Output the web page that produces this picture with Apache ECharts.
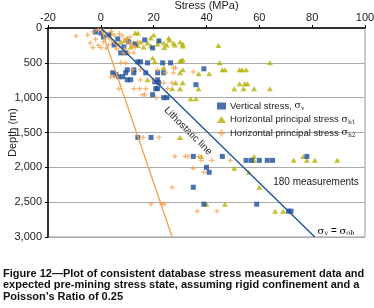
<!DOCTYPE html>
<html>
<head>
<meta charset="utf-8">
<script src="https://cdn.jsdelivr.net/npm/echarts@6/dist/echarts.min.js"></script>
<style>
  html, body { margin: 0; padding: 0; background: #fff; }
  #chart { width: 374px; height: 308px; }
</style>
</head>
<body>
<div id="chart"></div>
<script>
// stress (MPa), depth (m)
const vertical = [
  [-2, 57], [0, 71], [1, 129], [6.4, 157], [10.6, 200], [16.6, 171], [22, 186], [19.6, 286], [8.7, 271], [5, 243], [3, 100], [13, 230],
  [7.5, 357], [9.4, 357], [14, 486], [15, 486], [17.7, 500], [23.4, 500], [26.4, 500], [10, 600], [12.5, 600], [39, 586],
  [4.5, 643], [5.7, 671], [9.4, 643], [12.5, 643], [17, 643], [21.5, 643], [23.8, 643], [6.8, 700], [8.3, 700], [10, 743], [11.3, 743],
  [21.5, 743], [20.4, 771], [21.9, 786], [36, 814], [20.8, 871], [21.5, 871], [19.6, 957], [23.8, 1000], [25, 1000],
  [14, 1571], [19, 1571], [35, 1843], [46, 1843], [78, 1843], [55, 1900], [57, 1900], [60, 1900], [63, 1900], [65, 1900],
  [40, 2000], [41, 2071], [35, 2286], [39, 2529], [59, 2529], [71, 2629], [72, 2629]
];
const horizH1 = [
  [3.8, 71], [13, 71], [14, 71], [10, 143], [12.5, 214], [15, 200], [17.7, 214], [21.5, 229], [23.8, 214], [27.5, 214], [31, 229],
  [25.7, 143], [18.9, 143], [11.3, 271], [16.2, 271], [7.5, 200], [26, 171], [28, 243], [25, 243], [31, 257], [44.5, 250],
  [20, 100], [22, 180], [9, 180], [14, 250], [19, 260], [24, 280], [30, 200],
  [19.6, 429], [20.4, 486], [30, 471], [30.5, 471], [31, 457], [45, 500], [64, 500], [23.8, 571], [31, 600], [46, 600], [47, 600],
  [52.5, 600], [53.5, 600], [55, 600], [30, 643], [37, 657], [41, 657], [17.7, 743], [28.3, 786], [31, 786], [52.5, 800], [54.5, 800],
  [55.5, 800], [27, 871], [30, 871], [37, 871], [50.5, 871], [54, 871], [58, 871], [64, 871], [34, 1014], [36, 1014],
  [30, 1571], [38, 1843], [58, 1843], [76.6, 1843], [58, 1900], [73, 1900], [78, 1900], [81, 1900], [89.5, 1900],
  [50.5, 2014], [56, 2071], [60, 2286], [40, 2529], [47, 2529], [66, 2629], [69, 2629]
];
const horizH2 = [
  [-9.4, 114], [-4, 214], [-3, 57], [-1, 30], [1, 40], [2, 90], [3, 140], [4, 170], [5, 200], [6, 230], [7, 260], [8, 110], [9, 160],
  [10, 190], [11, 220], [12, 250], [13, 280], [-2, 160], [-1, 250], [0, 280], [2, 290], [5, 100], [7, 80], [4, 50], [6, 300],
  [-5, 100], [-3, 280], [1, 200], [3, 240], [9, 300], [14, 200], [11, 130],
  [8.7, 357], [10.6, 357], [12.5, 357], [7.5, 500], [9.4, 500], [27.5, 571], [28.3, 571], [12, 600], [15, 600], [21.5, 600],
  [35, 629], [24.5, 643], [27.5, 643], [3.8, 700], [5, 700], [15, 743], [20, 743], [23.8, 786], [27, 786], [6.8, 871],
  [12.5, 871], [14.7, 871], [17, 871], [25.3, 871], [15.8, 957], [16.6, 957], [21, 1000],
  [16, 1571], [22, 1571], [28, 1843], [32, 1843], [33, 1843], [37, 1843], [38, 1900], [42, 1900], [49, 1900],
  [35, 2014], [39, 2071], [27, 2286], [19, 2529], [23, 2529], [24, 2529], [36.5, 2629], [44, 2629]
];
const lithostatic = [[0, 0], [81, 3000]];
const expectedH = [[0, 0], [27, 3000]];

const BLUE = '#1d4f9a';
const OLIVE = '#b3b000';
const ORANGE = '#f7a04a';
const FONT = 'Liberation Sans, Arial, sans-serif';
const PLUS = 'path://M3,0h2v3h3v2h-3v3h-2v-3h-3v-2h3z';

const chart = echarts.init(document.getElementById('chart'));

const subRich = {
  t: { fontSize: 10, color: '#222', fontFamily: FONT },
  g: { fontSize: 10, color: '#222', fontFamily: 'DejaVu Serif, serif' },
  s: { fontSize: 6.5, color: '#222', fontFamily: 'DejaVu Serif, serif', padding: [5, 0, 0, 0] }
};
const legendRich = {
  t: { fontSize: 9.5, color: '#222', fontFamily: FONT },
  g: { fontSize: 9.5, color: '#222', fontFamily: 'DejaVu Serif, serif' },
  s: { fontSize: 6, color: '#222', fontFamily: 'DejaVu Serif, serif', padding: [5, 0, 0, 0] }
};

const option = {
  backgroundColor: '#fff',
  animation: false,
  grid: {
    left: 48, right: 9, top: 28, bottom: 71,
    containLabel: false,
    outerBoundsMode: 'none',
    show: true, borderColor: '#999', borderWidth: 1
  },
  legend: {
    orient: 'vertical',
    left: 212,
    top: 96,
    itemGap: 3,
    itemWidth: 9,
    itemHeight: 7,
    data: [
      { name: 'v', icon: 'rect' },
      { name: 'h1', icon: 'triangle' },
      { name: 'h2', icon: PLUS }
    ],
    formatter: function (name) {
      if (name === 'v') return '{t|Vertical stress, }{g|σ}{s|v}';
      if (name === 'h1') return '{t|Horizontal principal stress }{g|σ}{s|h1}';
      return '{t|Horizontal principal stress }{g|σ}{s|h2}';
    },
    textStyle: { rich: legendRich, padding: [0, 0, 0, -1] }
  },
  xAxis: {
    type: 'value',
    position: 'top',
    min: -20, max: 100, interval: 20,
    name: 'Stress (MPa)',
    nameLocation: 'middle',
    nameGap: 17,
    nameMoveOverlap: false,
    nameTextStyle: { fontSize: 11, color: '#222', fontFamily: FONT },
    axisLine: { show: true, onZero: false, lineStyle: { color: '#000', width: 1.5 } },
    axisTick: { show: true, length: 3, lineStyle: { color: '#000' } },
    axisLabel: { fontSize: 11, color: '#222', fontFamily: FONT, margin: 5 },
    splitLine: { show: false }
  },
  yAxis: {
    type: 'value',
    inverse: true,
    min: 0, max: 3000, interval: 500,
    name: 'Depth (m)',
    nameLocation: 'middle',
    nameGap: 30,
    nameMoveOverlap: false,
    nameTextStyle: { fontSize: 11, color: '#222', fontFamily: FONT },
    axisLine: { show: true, onZero: false, lineStyle: { color: '#000', width: 1.5 } },
    axisTick: { show: true, length: 3, lineStyle: { color: '#000' } },
    axisLabel: { fontSize: 11, color: '#222', fontFamily: FONT, margin: 6 },
    splitLine: { show: true, lineStyle: { color: '#aaa', width: 1 } }
  },
  series: [
    {
      name: 'h1', type: 'scatter', data: horizH1,
      symbol: 'triangle', symbolSize: [6, 5],
      itemStyle: { color: OLIVE }
    },
    {
      name: 'v', type: 'scatter', data: vertical,
      symbol: 'rect', symbolSize: 5,
      itemStyle: { color: BLUE }
    },
    {
      name: 'h2', type: 'scatter', data: horizH2,
      symbol: PLUS, symbolSize: 5,
      itemStyle: { color: ORANGE }
    },
    {
      name: 'exp', type: 'line', data: expectedH, symbol: 'none',
      lineStyle: { color: ORANGE, width: 1.3 }
    },
    {
      name: 'litho', type: 'line', data: lithostatic, symbol: 'none',
      lineStyle: { color: BLUE, width: 1.3 }
    }
  ],
  graphic: [
    {
      type: 'text', x: 188, y: 131, rotation: -Math.PI / 4,
      style: {
        text: 'Lithostatic line', fontSize: 10, fill: '#222', fontFamily: FONT,
        align: 'center', verticalAlign: 'middle'
      }
    },
    {
      type: 'text', x: 316, y: 182,
      style: {
        text: '180 measurements', fontSize: 10, fill: '#222', fontFamily: FONT,
        align: 'center', verticalAlign: 'middle'
      }
    },
    {
      type: 'text', x: 336, y: 231,
      style: {
        text: '{g|σ}{s|v}{t| = }{g|σ}{s|ob}',
        rich: subRich,
        align: 'center', verticalAlign: 'middle'
      }
    },
    {
      type: 'text', x: 3, y: 268,
      style: {
        text: 'Figure 12\u2014Plot of consistent database stress measurement data and\nexpected pre-mining stress state, assuming rigid confinement and a\nPoisson\u2019s Ratio of 0.25',
        fontSize: 11, fontWeight: 'bold', fill: '#111', fontFamily: FONT,
        lineHeight: 11.5
      }
    }
  ]
};

chart.setOption(option);
</script>
</body>
</html>
